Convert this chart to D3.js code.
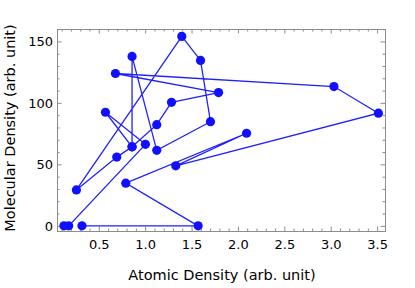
<!DOCTYPE html>
<html>
<head>
<meta charset="utf-8">
<script src="https://cdn.jsdelivr.net/npm/d3@7"></script>
<style>
  body { margin: 0; background: #fff; }
  text { font-family: 'DejaVu Sans', sans-serif; }
  .tick text { font-size: 13px; fill: #000; }
  .tick line { stroke: #8c8c8c; }
  .axis path { display: none; }
</style>
</head>
<body>
<div id="chart"></div>
<script>
// points in the order they are joined
const atomicDensity = [0.319, 1.571, 0.791, 2.093, 1.330, 3.514, 3.035, 0.680, 1.791, 1.284, 1.125, 0.859,
  0.859, 1.125, 1.704, 1.597, 1.395, 0.259, 0.694, 0.859, 0.572, 1.003, 0.176, 0.125];
const molecularDensity = [0, 0, 34.7, 75.3, 48.8, 91.6, 113.3, 123.9, 108.4, 100.5, 82.3, 64.3,
  137.8, 61.4, 84.7, 134.5, 154.1, 29.2, 55.9, 64.3, 92.4, 66.3, 0, 0];

const xTicks = [0.5, 1.0, 1.5, 2.0, 2.5, 3.0, 3.5];
const yTicks = [0, 50, 100, 150];

function chartInit() {
  const width = 415;
  const height = 288;
  const margin = {
    top: 29,
    right: 30,
    bottom: 57,
    left: 57,
  };
  const w = width - margin.left - margin.right;
  const h = height - margin.top - margin.bottom;

  const dataset = atomicDensity.map((a, i) => ({ a, m: molecularDensity[i] }));

  const xScale = d3.scaleLinear().domain([0.05, 3.585]).range([0, w]);
  const yScale = d3.scaleLinear().domain([-4.2, 160.1]).range([h, 0]);

  const svg = d3.select('#chart')
    .append('svg')
    .attr('width', width)
    .attr('height', height)
    .append('g')
    .attr('transform', `translate(${margin.left}, ${margin.top})`);

  // minor ticks (every 0.1 / every 10) on all four sides, pointing in
  const xMinor = d3.range(1, 36).map((d) => d / 10).filter((d) => Math.round(d * 10) % 5 !== 0);
  const yMinor = d3.range(10, 161, 10).filter((d) => d % 50 !== 0);

  svg.append('g').attr('class', 'axis')
    .attr('transform', `translate(0, ${h})`)
    .call(d3.axisTop(xScale).tickValues(xMinor).tickSize(2.5).tickFormat(''));
  svg.append('g').attr('class', 'axis')
    .call(d3.axisBottom(xScale).tickValues(xMinor).tickSize(2.5).tickFormat(''));
  svg.append('g').attr('class', 'axis')
    .call(d3.axisRight(yScale).tickValues(yMinor).tickSize(2.5).tickFormat(''));
  svg.append('g').attr('class', 'axis')
    .attr('transform', `translate(${w}, 0)`)
    .call(d3.axisLeft(yScale).tickValues(yMinor).tickSize(2.5).tickFormat(''));

  // major ticks with labels
  svg.append('g').attr('class', 'x axis')
    .attr('transform', `translate(0, ${h})`)
    .call(d3.axisBottom(xScale).tickValues(xTicks).tickSize(-4.5).tickPadding(9)
      .tickFormat(d3.format('.1f')));
  svg.append('g').attr('class', 'axis')
    .call(d3.axisBottom(xScale).tickValues(xTicks).tickSize(4.5).tickFormat(''));
  svg.append('g').attr('class', 'y axis')
    .call(d3.axisLeft(yScale).tickValues(yTicks).tickSize(-4.5).tickPadding(4));
  svg.append('g').attr('class', 'axis')
    .attr('transform', `translate(${w}, 0)`)
    .call(d3.axisLeft(yScale).tickValues(yTicks).tickSize(4.5).tickFormat(''));

  // frame
  svg.append('rect')
    .attr('x', 0.5)
    .attr('y', 0.5)
    .attr('width', w)
    .attr('height', h)
    .attr('fill', 'none')
    .attr('stroke', '#8c8c8c');

  // joined line
  const valueline = d3.line()
    .x((d) => xScale(d.a))
    .y((d) => yScale(d.m));

  svg.append('path')
    .datum(dataset)
    .attr('fill', 'none')
    .attr('stroke', '#2020ff')
    .attr('stroke-width', 1.3)
    .attr('d', valueline);

  svg.selectAll('.dot')
    .data(dataset)
    .enter()
    .append('circle')
    .attr('class', 'dot')
    .attr('cx', (d) => xScale(d.a))
    .attr('cy', (d) => yScale(d.m))
    .attr('r', 4.6)
    .attr('fill', '#1010ff');

  // axis titles
  svg.append('text')
    .attr('x', w / 2 + 1)
    .attr('y', h + 49)
    .attr('text-anchor', 'middle')
    .style('font-size', '14.5px')
    .text('Atomic Density (arb. unit)');

  svg.append('text')
    .attr('transform', `translate(${-42}, ${h / 2 - 2}) rotate(-90)`)
    .attr('text-anchor', 'middle')
    .style('font-size', '14.5px')
    .text('Molecular Density (arb. unit)');
}

window.onload = chartInit;
</script>
</body>
</html>
